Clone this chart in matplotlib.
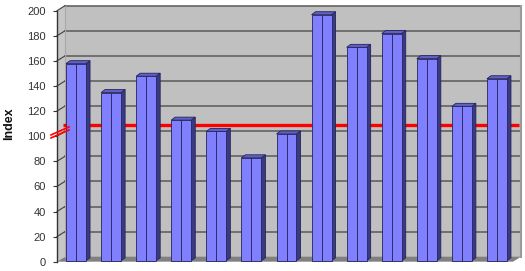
import matplotlib
matplotlib.use("Agg")
import matplotlib.pyplot as plt
import matplotlib.transforms as mtransforms
from matplotlib.patches import Polygon
import numpy as np

plt.rcParams['font.family'] = ['Liberation Sans', 'DejaVu Sans']

# ---- data ----
categories = list(range(1, 14))
values = [157, 134, 147, 112, 103, 82, 101, 196, 170, 181, 161, 123, 145]
threshold = 106
yticks = [0, 20, 40, 60, 80, 100, 120, 140, 160, 180, 200]
ylabel = "Index"

# ---- style ----
W, H, DPI = 525, 271, 100
wall_c = '#c0c0c0'
floor_c = '#808080'
grid_c = '#5a5a5a'
front_c = '#8080ff'
side_c = '#3a3a82'
top_c = '#6060c8'
edge_c = '#24245a'
DX, DY = 8, 5          # full depth offset (pixels)
BF = (1.5, 1.0)        # bar front depth offset
BB = (5.5, 4.0)        # bar back depth offset
bw = 0.57

fig = plt.figure(figsize=(W / DPI, H / DPI), dpi=DPI)
fig.patch.set_facecolor('white')
ax = fig.add_axes([57 / W, (H - 261.7) / H, 456 / W, 251 / H])
n = len(values)
ax.set_xlim(-0.5, n - 0.5)
ax.set_ylim(0, 200)
ax.patch.set_visible(False)
for s in ['top', 'right', 'bottom']:
    ax.spines[s].set_visible(False)
ax.spines['left'].set_color('#333333')
ax.spines['left'].set_linewidth(1.0)
ax.spines['left'].set_zorder(6)
ax.set_xticks([])
ax.set_yticks(yticks)
ax.tick_params(axis='y', direction='out', length=3, width=0.8, color='#333333',
               labelsize=8, labelcolor='#333333', pad=5)
fig.text(9 / W, (H - 124) / H, ylabel, rotation=90, ha='center', va='center',
         fontsize=9, fontweight='bold', color='#111111')

ident = mtransforms.IdentityTransform()


def disp(x, y, off=(0, 0)):
    p = ax.transData.transform((x, y))
    return (p[0] + off[0], p[1] + off[1])


def poly(pts, color, z, ec='none', lw=0.0):
    ax.add_patch(Polygon(pts, closed=True, facecolor=color, edgecolor=ec,
                         linewidth=lw, transform=ident, clip_on=False, zorder=z))


x0, x1 = -0.5, n - 0.5
# back wall
poly([disp(x0, 0, (DX, DY)), disp(x1, 0, (DX, DY)),
      disp(x1, 200, (DX, DY)), disp(x0, 200, (DX, DY))], wall_c, 1)
# side wall
poly([disp(x0, 0), disp(x0, 0, (DX, DY)), disp(x0, 200, (DX, DY)), disp(x0, 200)],
     '#c6c6c6', 1)
# floor
poly([disp(x0, 0), disp(x1, 0), disp(x1, 0, (DX, DY)), disp(x0, 0, (DX, DY))],
     floor_c, 2)

# gridlines on back wall and side wall
for t in yticks[1:]:
    a = disp(x0, t, (DX, DY))
    b = disp(x1, t, (DX, DY))
    ax.add_line(plt.Line2D([a[0], b[0]], [a[1], b[1]], color=grid_c, lw=1.1,
                           transform=ident, clip_on=False, zorder=2))
    c = disp(x0, t)
    ax.add_line(plt.Line2D([c[0], a[0]], [c[1], a[1]], color='#404040', lw=0.8,
                           transform=ident, clip_on=False, zorder=2))
# wall edges
a = disp(x0, 0, (DX, DY)); b = disp(x0, 200, (DX, DY))
ax.add_line(plt.Line2D([a[0], b[0]], [a[1], b[1]], color='#a8a8a8', lw=0.8,
                       transform=ident, clip_on=False, zorder=2))
a = disp(x1, 0, (DX, DY)); b = disp(x1, 200, (DX, DY))
ax.add_line(plt.Line2D([a[0], b[0]], [a[1], b[1]], color='#9a9a9a', lw=1.5,
                       transform=ident, clip_on=False, zorder=2))

# threshold line (behind bars)
back_tr = mtransforms.offset_copy(ax.transData, fig=fig, x=BB[0], y=BB[1], units='dots')
ax.plot([x0, x1], [threshold, threshold], color='#ff0000', lw=2.4,
        transform=back_tr, clip_on=False, zorder=3, solid_capstyle='butt')

# bars
for i, v in enumerate(values):
    l, r = i - bw / 2, i + bw / 2
    m = i
    # side face
    poly([disp(r, 0, BF), disp(r, 0, BB), disp(r, v, BB), disp(r, v, BF)],
         side_c, 4, ec=edge_c, lw=0.6)
    # top face
    poly([disp(l, v, BF), disp(r, v, BF), disp(r, v, BB), disp(l, v, BB)],
         top_c, 4, ec=edge_c, lw=0.6)
    # front face (two halves)
    poly([disp(l, 0, BF), disp(m, 0, BF), disp(m, v, BF), disp(l, v, BF)],
         front_c, 5, ec=edge_c, lw=0.6)
    poly([disp(m, 0, BF), disp(r, 0, BF), disp(r, v, BF), disp(m, v, BF)],
         front_c, 5, ec=edge_c, lw=0.6)

# axis break marks
cx, cy = disp(x0, 103)
for k in (0, 1):
    off = -1.5 + 3 * k
    ax.add_line(plt.Line2D([cx - 6, cx + 12], [cy - 4 + off, cy + 4 + off],
                           color='#ff0000', lw=1.2, transform=ident,
                           clip_on=False, zorder=8))

fig.savefig('out.png', dpi=DPI)
